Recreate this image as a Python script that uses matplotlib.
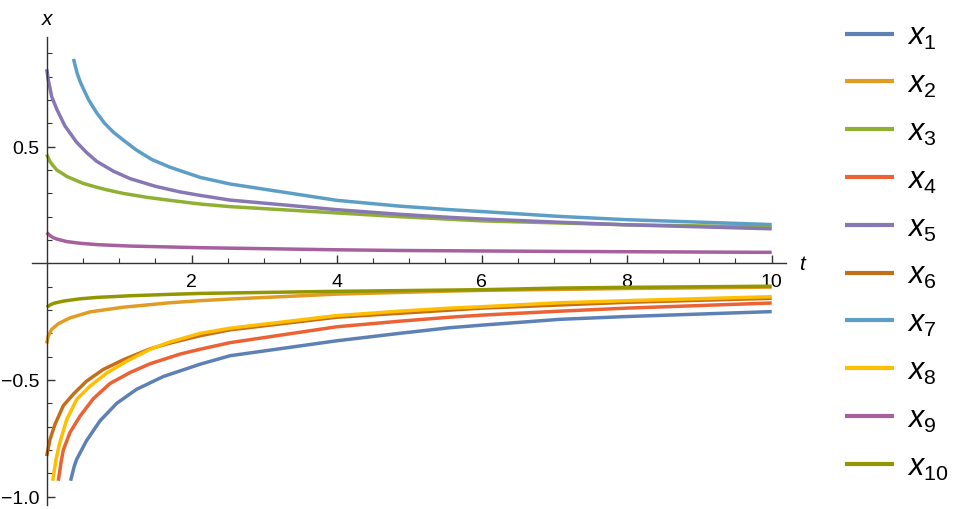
import matplotlib
matplotlib.use("Agg")
import matplotlib.pyplot as plt
from matplotlib.ticker import FixedLocator, NullFormatter

plt.rcParams['font.family'] = ['Liberation Sans', 'DejaVu Sans']
plt.rcParams['mathtext.fontset'] = 'custom'
plt.rcParams['mathtext.rm'] = 'Liberation Sans'
plt.rcParams['mathtext.it'] = 'Liberation Sans:italic'

# ---- data (t, value) ----
t1 = [0.33, 0.38, 0.414, 0.55, 0.736, 0.966, 1.24, 1.61, 2.12, 2.53, 4.0, 4.87, 5.56, 6.0, 7.08, 8.0, 10.0]
x1 = [-0.932, -0.87, -0.84, -0.76, -0.675, -0.60, -0.54, -0.485, -0.432, -0.396, -0.332, -0.300, -0.276, -0.265, -0.240, -0.228, -0.207]

t2 = [0.0, 0.023, 0.069, 0.16, 0.32, 0.6, 1.06, 1.70, 2.12, 2.53, 4.0, 5.56, 6.0, 8.0, 10.0]
x2 = [-0.344, -0.311, -0.283, -0.259, -0.234, -0.208, -0.188, -0.169, -0.160, -0.153, -0.132, -0.119, -0.116, -0.108, -0.102]

t3 = [0.0, 0.046, 0.09, 0.14, 0.28, 0.5, 0.69, 0.83, 1.05, 1.38, 1.70, 2.12, 2.53, 4.0, 4.87, 5.56, 6.0, 8.0, 10.0]
x3 = [0.467, 0.436, 0.418, 0.40, 0.372, 0.343, 0.326, 0.315, 0.30, 0.283, 0.270, 0.254, 0.243, 0.216, 0.200, 0.189, 0.182, 0.165, 0.156]

t4 = [0.16, 0.20, 0.23, 0.32, 0.46, 0.644, 0.874, 1.15, 1.43, 1.84, 2.12, 2.53, 4.0, 4.87, 5.56, 6.0, 7.08, 8.0, 10.0]
x4 = [-0.932, -0.85, -0.80, -0.726, -0.655, -0.58, -0.515, -0.468, -0.43, -0.389, -0.368, -0.340, -0.272, -0.248, -0.231, -0.222, -0.205, -0.192, -0.170]

t5 = [0.0, 0.023, 0.069, 0.14, 0.25, 0.41, 0.55, 0.69, 0.92, 1.15, 1.50, 1.84, 2.12, 2.53, 4.0, 4.87, 5.56, 6.0, 7.08, 8.0, 10.0]
x5 = [0.832, 0.785, 0.715, 0.66, 0.59, 0.52, 0.475, 0.437, 0.395, 0.363, 0.330, 0.306, 0.291, 0.271, 0.230, 0.210, 0.197, 0.190, 0.176, 0.165, 0.148]

t6 = [0.0, 0.046, 0.115, 0.23, 0.37, 0.55, 0.78, 1.06, 1.43, 1.70, 2.12, 2.53, 4.0, 6.0, 8.0, 10.0]
x6 = [-0.826, -0.755, -0.69, -0.61, -0.56, -0.505, -0.455, -0.413, -0.366, -0.342, -0.310, -0.285, -0.231, -0.192, -0.167, -0.150]

t7 = [0.37, 0.42, 0.46, 0.50, 0.58, 0.69, 0.80, 0.92, 1.07, 1.24, 1.45, 1.70, 2.12, 2.53, 4.0, 4.87, 5.56, 6.0, 7.08, 8.0, 10.0]
x7 = [0.876, 0.815, 0.78, 0.752, 0.70, 0.645, 0.60, 0.562, 0.525, 0.485, 0.445, 0.412, 0.368, 0.340, 0.270, 0.245, 0.230, 0.222, 0.201, 0.187, 0.166]

t8 = [0.083, 0.129, 0.18, 0.276, 0.414, 0.6, 0.83, 1.10, 1.43, 1.70, 2.12, 2.53, 4.0, 4.87, 5.56, 6.0, 7.08, 8.0, 10.0]
x8 = [-0.932, -0.84, -0.77, -0.67, -0.583, -0.526, -0.47, -0.42, -0.368, -0.337, -0.300, -0.278, -0.224, -0.205, -0.192, -0.186, -0.169, -0.160, -0.143]

t9 = [0.0, 0.05, 0.09, 0.14, 0.28, 0.46, 0.7, 1.15, 1.7, 2.12, 2.53, 4.0, 4.87, 7.08, 10.0]
x9 = [0.132, 0.118, 0.110, 0.104, 0.093, 0.086, 0.080, 0.074, 0.070, 0.067, 0.065, 0.058, 0.055, 0.051, 0.047]

t10 = [0.0, 0.05, 0.1, 0.23, 0.46, 0.7, 1.15, 1.7, 2.12, 2.53, 4.0, 4.87, 6.0, 7.08, 8.0, 10.0]
x10 = [-0.188, -0.178, -0.171, -0.162, -0.152, -0.146, -0.139, -0.133, -0.129, -0.127, -0.120, -0.117, -0.113, -0.106, -0.103, -0.098]

labels = [r'$\mathit{x}_{%d}$' % i for i in range(1, 11)]
colors = ['#5E81B5', '#E19C24', '#8FB032', '#EB6235', '#8778B3',
          '#C56E1A', '#5D9EC7', '#FFBF00', '#A5609D', '#929600']

x_major = [2, 4, 6, 8, 10]
x_major_labels = ['2', '4', '6', '8', '10']
y_major = [-1.0, -0.5, 0.5]
y_major_labels = ['\u22121.0', '\u22120.5', '0.5']

series = [(t1, x1), (t2, x2), (t3, x3), (t4, x4), (t5, x5),
          (t6, x6), (t7, x7), (t8, x8), (t9, x9), (t10, x10)]

fig = plt.figure(figsize=(9.63, 5.10), dpi=100)
ax = fig.add_axes([0.0334, 0.0082, 0.7830, 0.9173])

for (tt, xx), c, lab in zip(series, colors, labels):
    ax.plot(tt, xx, color=c, lw=2.5, label=lab, solid_capstyle='butt',
            solid_joinstyle='round')

ax.set_xlim(-0.2, 10.2)
ax.set_ylim(-1.035, 0.97)

for s in ['top', 'right']:
    ax.spines[s].set_visible(False)
ax.spines['left'].set_position(('data', 0))
ax.spines['bottom'].set_position(('data', 0))
for s in ['left', 'bottom']:
    ax.spines[s].set_color('#333333')
    ax.spines[s].set_linewidth(1.0)

ax.xaxis.set_major_locator(FixedLocator(x_major))
ax.set_xticklabels(x_major_labels)
ax.xaxis.set_minor_locator(FixedLocator([i * 0.5 for i in range(1, 21)]))
ax.yaxis.set_major_locator(FixedLocator(y_major))
ax.set_yticklabels(y_major_labels)
ax.yaxis.set_minor_locator(FixedLocator([i / 10 for i in range(-10, 10) if i != 0]))
ax.xaxis.set_minor_formatter(NullFormatter())
ax.yaxis.set_minor_formatter(NullFormatter())

ax.tick_params(which='major', direction='in', length=6, width=1.0, color='#333333',
               labelsize=14, labelcolor='black')
ax.tick_params(which='minor', direction='in', length=3.6, width=0.8, color='#333333')
ax.tick_params(axis='x', which='major', pad=7)
ax.tick_params(axis='y', which='major', pad=5)

ax.text(10.38, 0.0, 't', fontsize=15, style='italic', ha='left', va='center')
ax.text(0.0, 1.05, 'x', fontsize=15, style='italic', ha='center', va='center',
        transform=ax.transData, clip_on=False)

leg = fig.legend(loc='center left', bbox_to_anchor=(0.874, 0.505), frameon=False,
                 fontsize=22, handlelength=1.6, handletextpad=0.45,
                 labelspacing=0.58, borderaxespad=0.0, borderpad=0.1)
for ln in leg.get_lines():
    ln.set_linewidth(3.0)

fig.savefig('out.png', dpi=100, facecolor='white')
